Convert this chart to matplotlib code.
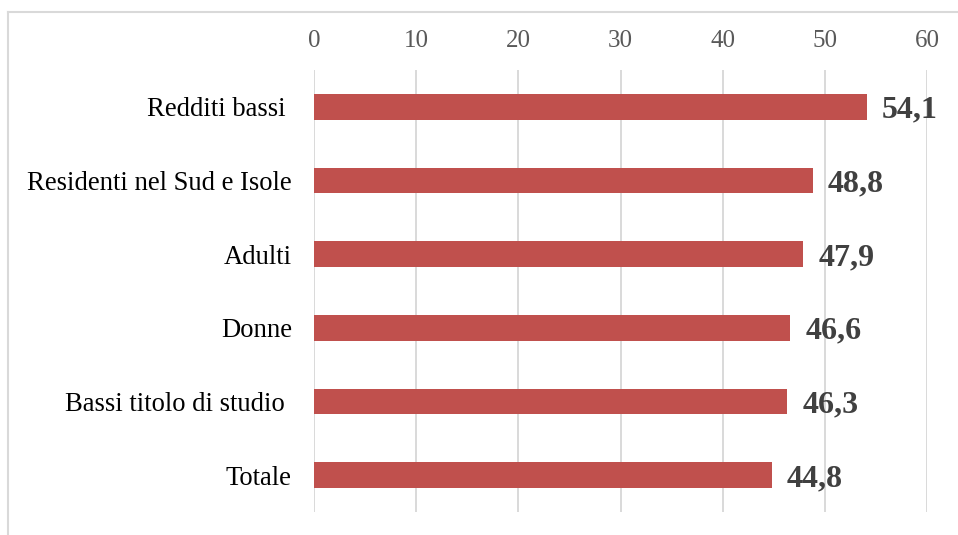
import matplotlib
matplotlib.use("Agg")
import matplotlib.pyplot as plt
from matplotlib.lines import Line2D

categories = ["Redditi bassi ", "Residenti nel Sud e Isole", "Adulti", "Donne",
              "Bassi titolo di studio ", "Totale"]
values = [54.1, 48.8, 47.9, 46.6, 46.3, 44.8]
value_labels = ["54,1", "48,8", "47,9", "46,6", "46,3", "44,8"]
xticks = [0, 10, 20, 30, 40, 50, 60]

plt.rcParams['font.family'] = ['Liberation Serif', 'DejaVu Serif']

fig = plt.figure(figsize=(9.58, 5.35), dpi=100)
ax = fig.add_axes([314/958, 1-512/535, (927-314)/958, (512-70)/535])

ypos = list(range(len(categories)))
ax.barh(ypos, values, height=0.35, color="#c0504d", zorder=3)
ax.set_ylim(len(categories)-0.5, -0.5)
ax.set_xlim(0, 60)
ax.set_xticks(xticks)
ax.set_yticks(ypos)
ax.set_yticklabels(categories, fontsize=19.2, color="black")
ax.xaxis.tick_top()
ax.tick_params(axis='x', length=0, pad=13, labelsize=18, labelcolor="#595959")
ax.tick_params(axis='y', length=0, pad=16)
ax.grid(axis='x', color="#d9d9d9", linewidth=1.4, zorder=0)
for s in ax.spines.values():
    s.set_visible(False)

for y, v, lab in zip(ypos, values, value_labels):
    ax.annotate(lab, xy=(v, y), xytext=(11, -2.5), textcoords='offset points',
                ha='left', va='center', fontsize=23, fontweight='bold',
                color="#404040")

# outer chart frame (partially visible)
fig.add_artist(Line2D([8/958, 1], [1-12/535, 1-12/535], transform=fig.transFigure,
                      color="#d9d9d9", linewidth=1.5))
fig.add_artist(Line2D([8/958, 8/958], [0, 1-12/535], transform=fig.transFigure,
                      color="#d9d9d9", linewidth=1.5))

fig.savefig("out.png", dpi=100)
